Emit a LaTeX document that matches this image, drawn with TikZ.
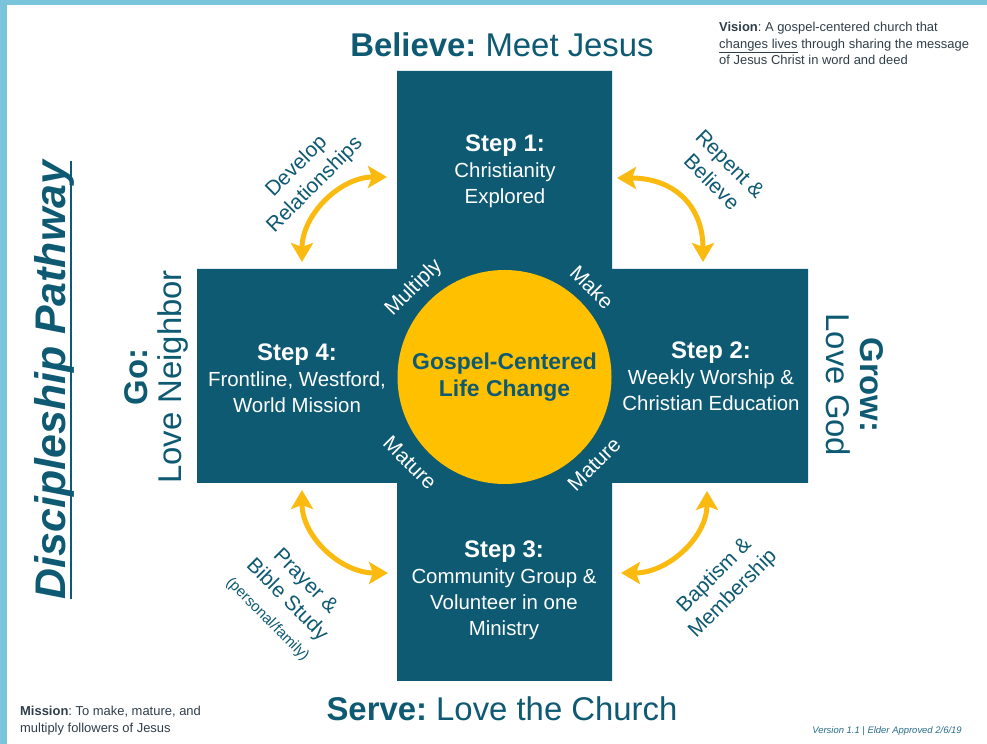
\documentclass[tikz,border=0pt]{standalone}
\usepackage{fontspec}
\setmainfont{Liberation Sans}
\usepackage{tikz}
\usetikzlibrary{arrows.meta}

\definecolor{pathteal}{RGB}{14,90,115}
\definecolor{pathgold}{RGB}{255,192,0}
\definecolor{arrowgold}{RGB}{250,186,16}
\definecolor{edgeblue}{RGB}{122,196,220}
\definecolor{notegray}{RGB}{48,62,74}
\definecolor{versionblue}{RGB}{42,110,140}
\newcommand{\pwfont}[2]{\fontsize{#1}{#2}\selectfont}
\frenchspacing

\begin{document}
\begin{tikzpicture}[x=1bp, y=1bp,
		steptext/.style={align=center, text=white, font=\pwfont{20.5}{26}},
		roundtext/.style={text=white, font=\pwfont{21}{24}},
		sidetext/.style={align=center, text=pathteal, font=\pwfont{21}{26}},
		bigtext/.style={text=pathteal, font=\pwfont{33}{34}},
		noteline/.style={align=left, text=notegray, font=\pwfont{13}{16.5}, inner sep=0pt},
		twoway/.style={arrowgold, line width=5bp, {Stealth[length=19bp,width=22bp,inset=4bp]}-{Stealth[length=19bp,width=22bp,inset=4bp]}}]
		\fill[white] (0,0) rectangle (987,744);
		\fill[edgeblue] (0,0) rectangle (7,744);
		\fill[edgeblue] (0,739) rectangle (987,744);
		\useasboundingbox (0,0) rectangle (987,744);
		
		\fill[pathteal] (397,673) -- (612,673) -- (612,475) -- (808,475) -- (808,261) -- (612,261) -- (612,63) -- (397,63) -- (397,261) -- (197,261) -- (197,475) -- (397,475) -- cycle;
		
		\node[circle, fill=pathgold, minimum size=214bp, inner sep=0pt, align=center, text=pathteal, font=\pwfont{23}{27}\bfseries] (0) at (504.5,367) {Gospel-Centered\\Life Change};
		
		\node[steptext] (1) at (505,573) {{\pwfont{24}{29}\bfseries Step 1:}\\Christianity\\Explored};
		\node[steptext] (2) at (711,368) {{\pwfont{24}{29}\bfseries Step 2:}\\Weekly Worship \&\\Christian Education};
		\node[steptext] (3) at (504,154) {{\pwfont{24}{29}\bfseries Step 3:}\\Community Group \&\\Volunteer in one\\Ministry};
		\node[steptext] (4) at (297,366) {{\pwfont{24}{29}\bfseries Step 4:}\\Frontline, Westford,\\World Mission};
		
		\node[roundtext, rotate=45] (5) at (414,456) {Multiply};
		\node[roundtext, rotate=-45] (6) at (592,457) {Make};
		\node[roundtext, rotate=-45] (7) at (410,281) {Mature};
		\node[roundtext, rotate=45] (8) at (594,280) {Mature};
		
		\node[bigtext] (9) at (502,699) {\textbf{Believe:} Meet Jesus};
		\node[bigtext] (10) at (502,35) {\textbf{Serve:} Love the Church};
		\node[bigtext, align=center, rotate=90] (11) at (156,367) {\textbf{Go:}\\Love Neighbor};
		\node[bigtext, align=center, rotate=-90] (12) at (855,359) {\textbf{Grow:}\\Love God};
		\node[text=pathteal, rotate=90, inner sep=0pt, font=\pwfont{43}{48}\bfseries\itshape] (13) at (54,364) {Discipleship Pathway};
		\draw[pathteal, line width=2bp] ([xshift=6bp]13.base west) -- ([xshift=6bp]13.base east);
		
		\node[sidetext, rotate=45] (14) at (306,568) {Develop\\Relationships};
		\node[sidetext, rotate=-45] (15) at (721,571) {Repent \&\\Believe};
		\node[sidetext, rotate=-45] (16) at (287,144) {Prayer \&\\Bible Study\\{\pwfont{15}{18}(personal/family)}};
		\node[sidetext, rotate=45] (17) at (724,159) {Baptism \&\\Membership};
		
		\node[noteline, anchor=north west] (18) at (719,722) {\textbf{Vision}: A gospel-centered church that\\\underline{changes lives} through sharing the message\\of Jesus Christ in word and deed};
		\node[noteline, anchor=north west] (19) at (20,38) {\textbf{Mission}: To make, mature, and\\multiply followers of Jesus};
		\node[text=versionblue, font=\pwfont{9.5}{11}\itshape] (20) at (887,13) {Version 1.1 | Elder Approved 2/6/19};
		
		\coordinate (21) at (302,482);
		\coordinate (22) at (387,567);
		\coordinate (23) at (617,566);
		\coordinate (24) at (703,482);
		\coordinate (25) at (302,254);
		\coordinate (26) at (388,171);
		\coordinate (27) at (707,253);
		\coordinate (28) at (621,171);
		
		\draw[twoway] (21) to [out=90, in=180] (22);
		\draw[twoway] (23) to [out=0, in=90, looseness=1.2] (24);
		\draw[twoway] (25) to [out=-90, in=180] (26);
		\draw[twoway] (27) to [out=-90, in=0] (28);
\end{tikzpicture}
\end{document}
